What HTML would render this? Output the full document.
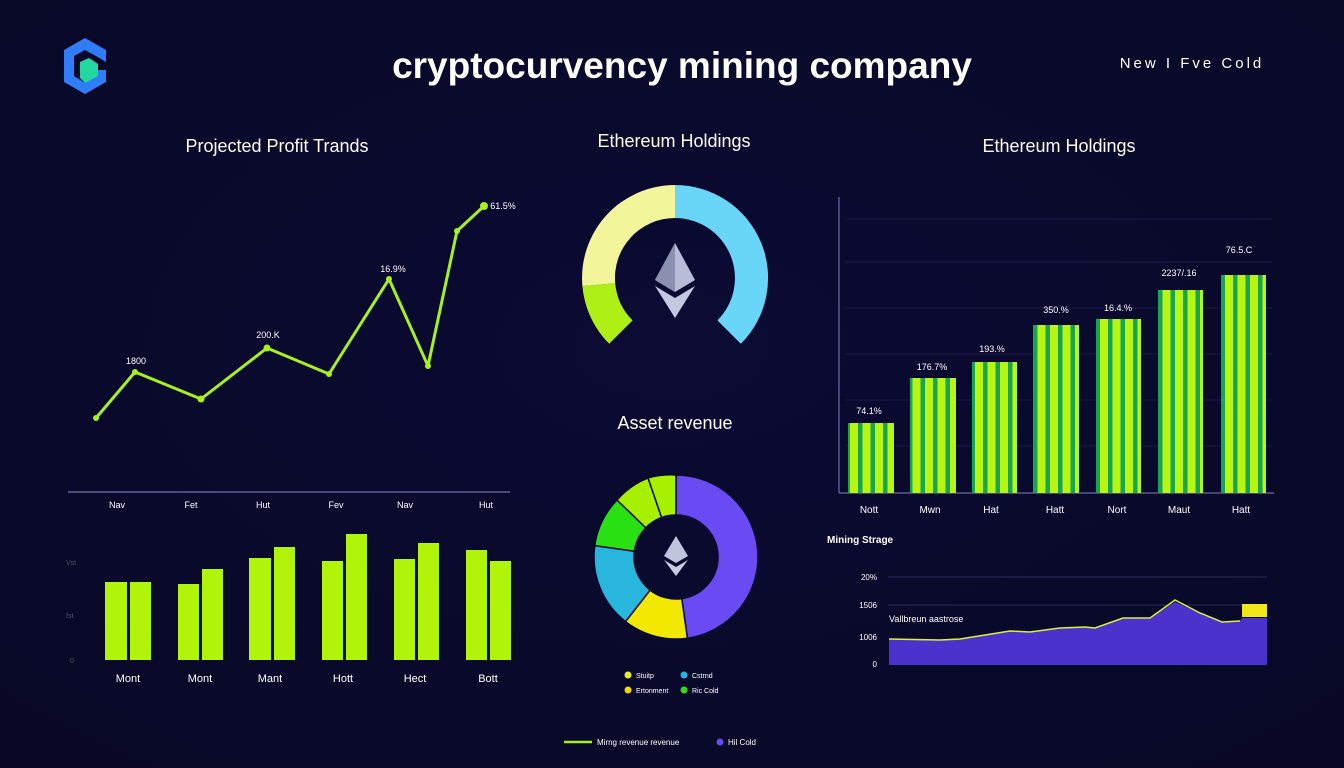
<!DOCTYPE html>
<html><head><meta charset="utf-8"><style>
html,body{margin:0;padding:0;background:#0a0a2c;}
svg{display:block}
text{font-family:"Liberation Sans",sans-serif;}
</style></head><body>
<svg width="1344" height="768" viewBox="0 0 1344 768" xmlns="http://www.w3.org/2000/svg">
<defs>
<pattern id="stripe" width="12.5" height="10" patternUnits="userSpaceOnUse">
<rect width="12.5" height="10" fill="#b8f510"/><rect x="8" width="4.5" height="10" fill="#17a552"/>
</pattern>
<radialGradient id="bg" cx="50%" cy="45%" r="70%"><stop offset="0" stop-color="#0b0b34"/><stop offset="1" stop-color="#080826"/></radialGradient>
</defs>
<rect width="1344" height="768" fill="url(#bg)"/>
<!-- logo -->
<polygon points="85,38 106,50 106,62 96,56 85,50 74,56 74,76 85,83 96,76 96,70 106,70 106,82 85,94 64,82 64,50" fill="#2f7dfa"/>
<polygon points="80,62 89,58 98,64 98,76 85,83 80,78" fill="#22d8a0"/>
<text x="682" y="78" font-size="37" font-weight="bold" fill="#fff" text-anchor="middle">cryptocurvency mining company</text>
<text x="1192" y="68" font-size="15" fill="#fff" text-anchor="middle" letter-spacing="3">New I Fve Cold</text>
<text x="277" y="152" font-size="18" fill="#fff" text-anchor="middle">Projected Profit Trands</text>
<text x="674" y="147" font-size="18" fill="#fff" text-anchor="middle">Ethereum Holdings</text>
<text x="1059" y="152" font-size="18" fill="#fff" text-anchor="middle">Ethereum Holdings</text>
<text x="675" y="429" font-size="18" fill="#fff" text-anchor="middle">Asset revenue</text>

<!-- line chart -->
<polyline points="96,418 135,372 201,399 267,348 329,374 389,279 428,366 457,231 484,206" fill="none" stroke="#a8f01a" stroke-width="3" stroke-linejoin="round"/>
<g fill="#a8f01a"><circle cx="96" cy="418" r="3"/><circle cx="135" cy="372" r="3"/><circle cx="201" cy="399" r="3.5"/><circle cx="267" cy="348" r="3.5"/><circle cx="329" cy="374" r="3"/><circle cx="389" cy="279" r="3"/><circle cx="428" cy="366" r="3"/><circle cx="457" cy="231" r="3"/><circle cx="484" cy="206" r="4"/></g>
<g font-size="9" fill="#fff" text-anchor="middle"><text x="136" y="364">1800</text><text x="268" y="338">200.K</text><text x="393" y="272">16.9%</text><text x="503" y="209">61.5%</text></g>
<line x1="68" y1="492" x2="510" y2="492" stroke="#8c8cd0" stroke-width="1"/>
<g font-size="9" fill="#fff" text-anchor="middle"><text x="117" y="508">Nav</text><text x="191" y="508">Fet</text><text x="263" y="508">Hut</text><text x="336" y="508">Fev</text><text x="405" y="508">Nav</text><text x="486" y="508">Hut</text></g>

<!-- left bar chart -->
<g font-size="7" fill="#556"><text x="66" y="565">Vst</text><text x="66" y="618">fst</text><text x="70" y="663">0</text></g>
<g fill="#b0f40a">
<rect x="105" y="582" width="22" height="78"/><rect x="130" y="582" width="21" height="78"/>
<rect x="178" y="584" width="21" height="76"/><rect x="202" y="569" width="21" height="91"/>
<rect x="249" y="558" width="22" height="102"/><rect x="274" y="547" width="21" height="113"/>
<rect x="322" y="561" width="21" height="99"/><rect x="346" y="534" width="21" height="126"/>
<rect x="394" y="559" width="21" height="101"/><rect x="418" y="543" width="21" height="117"/>
<rect x="466" y="550" width="21" height="110"/><rect x="490" y="561" width="21" height="99"/>
</g>
<g font-size="11" fill="#fff" text-anchor="middle"><text x="128" y="682">Mont</text><text x="200" y="682">Mont</text><text x="270" y="682">Mant</text><text x="343" y="682">Hott</text><text x="415" y="682">Hect</text><text x="488" y="682">Bott</text></g>

<!-- gauge -->
<path d="M675 185 A93 93 0 0 1 740.8 343.8 L717.4 320.4 A60 60 0 0 0 675 218 Z" fill="#6ad6f7"/>
<path d="M582.4 286.1 A93 93 0 0 1 675 185 L675 218 A60 60 0 0 0 615.2 283.2 Z" fill="#f3f59a"/>
<path d="M609.2 343.8 A93 93 0 0 1 582.4 286.1 L615.2 283.2 A60 60 0 0 0 632.6 320.4 Z" fill="#aef016"/>
<polygon points="675,243 695,280 675,292 655,280" fill="#b8bcd8"/><polygon points="675,243 675,292 655,280" fill="#8c90b0"/>
<polygon points="655,286 675,298 695,286 675,318" fill="#c4c8e0"/>

<!-- donut -->
<g stroke="#0a0a2c" stroke-width="1.5">
<path d="M676 475 A82 82 0 0 1 687.4 638.2 L681.8 598.6 A42 42 0 0 0 676 515 Z" fill="#6a4af2"/>
<path d="M687.4 638.2 A82 82 0 0 1 625.5 621.6 L650.1 590.1 A42 42 0 0 0 681.8 598.6 Z" fill="#f2e800"/>
<path d="M625.5 621.6 A82 82 0 0 1 594.8 545.6 L634.4 551.2 A42 42 0 0 0 650.1 590.1 Z" fill="#28b6dc"/>
<path d="M594.8 545.6 A82 82 0 0 1 617 500 L645.8 527.8 A42 42 0 0 0 634.4 551.2 Z" fill="#28e012"/>
<path d="M617 500 A82 82 0 0 1 648 477.9 L661.6 517.5 A42 42 0 0 0 645.8 527.8 Z" fill="#a6f000"/>
<path d="M648 477.9 A82 82 0 0 1 676 475 L676 515 A42 42 0 0 0 661.6 517.5 Z" fill="#a6f000"/>
</g>
<polygon points="676,536 688,556 676,563 664,556" fill="#c0c4dc"/>
<polygon points="664,560 676,567 688,560 676,576" fill="#c8cce0"/>
<g font-size="7" fill="#fff"><circle cx="628" cy="675" r="3.5" fill="#e8f020"/><text x="636" y="678">Stuitp</text>
<circle cx="684" cy="675" r="3.5" fill="#28b6dc"/><text x="692" y="678">Cstrnd</text>
<circle cx="628" cy="690" r="3.5" fill="#f2d800"/><text x="636" y="693">Ertonment</text>
<circle cx="684" cy="690" r="3.5" fill="#28e012"/><text x="692" y="693">Ric Cold</text></g>
<line x1="564" y1="742" x2="592" y2="742" stroke="#a8f01a" stroke-width="2.5"/>
<text x="597" y="745" font-size="8" fill="#fff">Mirng revenue revenue</text>
<circle cx="720" cy="742" r="3.5" fill="#6a4af2"/><text x="728" y="745" font-size="8" fill="#fff">Hil Cold</text>

<!-- right bar chart -->
<g stroke="#1a1a48" stroke-width="1"><line x1="845" y1="219" x2="1272" y2="219"/><line x1="845" y1="262" x2="1272" y2="262"/><line x1="845" y1="308" x2="1272" y2="308"/><line x1="845" y1="354" x2="1272" y2="354"/><line x1="845" y1="400" x2="1272" y2="400"/><line x1="845" y1="446" x2="1272" y2="446"/></g>
<line x1="839" y1="197" x2="839" y2="493" stroke="#8080c0"/>
<line x1="839" y1="493" x2="1274" y2="493" stroke="#8080c0"/>
<g fill="url(#stripe)">
<rect x="848" y="423" width="46" height="70"/><rect x="910" y="378" width="46" height="115"/><rect x="972" y="362" width="45" height="131"/><rect x="1033" y="325" width="46" height="168"/><rect x="1096" y="319" width="45" height="174"/><rect x="1158" y="290" width="45" height="203"/><rect x="1221" y="275" width="45" height="218"/>
</g>
<g font-size="9" fill="#fff" text-anchor="middle"><text x="869" y="414">74.1%</text><text x="932" y="370">176.7%</text><text x="992" y="352">193.%</text><text x="1056" y="313">350.%</text><text x="1118" y="311">16.4.%</text><text x="1179" y="276">2237/.16</text><text x="1239" y="253">76.5.C</text></g>
<g font-size="10" fill="#fff" text-anchor="middle"><text x="869" y="513">Nott</text><text x="930" y="513">Mwn</text><text x="991" y="513">Hat</text><text x="1055" y="513">Hatt</text><text x="1117" y="513">Nort</text><text x="1179" y="513">Maut</text><text x="1241" y="513">Hatt</text></g>

<!-- area chart -->
<text x="827" y="543" font-size="10" font-weight="bold" fill="#fff">Mining Strage</text>
<line x1="888" y1="577" x2="1267" y2="577" stroke="#2a2a60"/>
<line x1="888" y1="605" x2="1267" y2="605" stroke="#2a2a60"/>
<g font-size="8" fill="#fff" text-anchor="end"><text x="877" y="580">20%</text><text x="877" y="608">1506</text><text x="877" y="640">1006</text><text x="877" y="667">0</text></g>
<polygon points="889,639 940,640 960,639 985,635 1010,631 1030,632 1060,628 1085,627 1095,628 1123,618 1150,618 1175,602 1200,613 1222,622 1240,621 1242,618 1267,618 1267,665 889,665" fill="#4b32cc"/>
<polyline points="889,639 940,640 960,639 985,635 1010,631 1030,632 1060,628 1085,627 1095,628 1123,618 1150,618 1175,600 1200,613 1222,622 1240,621" fill="none" stroke="#d8f040" stroke-width="1.5"/>
<rect x="1242" y="604" width="25" height="13" fill="#f0e818"/>
<text x="889" y="622" font-size="9" fill="#fff">Vallbreun aastrose</text>
</svg>
</body></html>
